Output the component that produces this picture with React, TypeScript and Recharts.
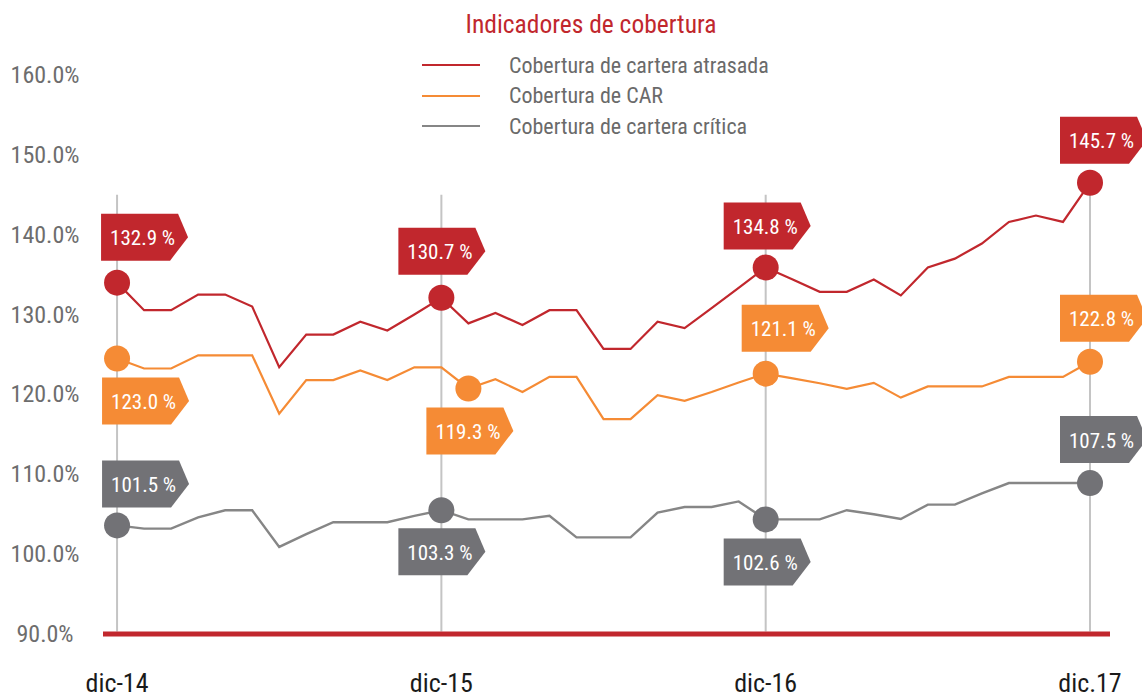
import React from "react";
import { CartesianGrid, Legend, Line, LineChart, ReferenceLine, XAxis, YAxis } from "recharts";

// Monthly points, dic-14 (0) to dic-17 (36)
const redValues = [
  134.0, 130.55, 130.55, 132.5, 132.5, 131.0, 123.4, 127.5, 127.5, 129.1, 128.0, 130.0, 132.1,
  128.9, 130.2, 128.7, 130.55, 130.55, 125.7, 125.7, 129.1, 128.3, 130.8, 133.35, 135.9,
  134.4, 132.85, 132.85, 134.4, 132.4, 135.9, 137.0, 138.9, 141.6, 142.4, 141.6, 146.5,
];
const orangeValues = [
  124.5, 123.25, 123.25, 124.9, 124.9, 124.9, 117.6, 121.8, 121.8, 123.0, 121.8, 123.4, 123.4,
  120.75, 121.9, 120.3, 122.2, 122.2, 116.9, 116.9, 119.9, 119.2, 120.3, 121.5, 122.6,
  122.0, 121.4, 120.7, 121.45, 119.6, 121.0, 121.0, 121.0, 122.2, 122.2, 122.2, 124.1,
];
const grayValues = [
  103.6, 103.2, 103.2, 104.6, 105.5, 105.5, 100.9, 102.5, 104.0, 104.0, 104.0, 104.8, 105.5,
  104.35, 104.35, 104.35, 104.8, 102.1, 102.1, 102.1, 105.2, 105.9, 105.9, 106.6, 104.35,
  104.35, 104.35, 105.5, 105.0, 104.4, 106.2, 106.2, 107.6, 108.9, 108.9, 108.9, 108.9,
];

const seriesNames = ["Cobertura de cartera atrasada", "Cobertura de CAR", "Cobertura de cartera crítica"];
const xTicks = [0, 12, 24, 36];
const xTickLabels = ["dic-14", "dic-15", "dic-16", "dic.17"];
const yTicks = [90, 100, 110, 120, 130, 140, 150, 160];

// highlighted points and their callout texts
const redMarks = [0, 12, 24, 36];
const redTags = ["132.9 %", "130.7 %", "134.8 %", "145.7 %"];
const orangeMarks = [0, 13, 24, 36];
const orangeTags = ["123.0 %", "119.3 %", "121.1 %", "122.8 %"];
const grayMarks = [0, 12, 24, 36];
const grayTags = ["101.5 %", "103.3 %", "102.6 %", "107.5 %"];

// callout box offsets from the dot (px)
const redPlace = [[-16, -69], [-43, -70], [-42, -65], [-30, -66]];
const orangePlace = [[-15, 19], [-42, 19], [-24, -69], [-30, -67]];
const grayPlace = [[-15, -65], [-43, 18], [-42, 19], [-30, -67]];

const RED = "#c1272d";
const ORANGE = "#f58b35";
const GRAY = "#727276";
const GRAY_LINE = "#868686";
const FONT = "'Liberation Sans Narrow', 'Roboto Condensed', 'DejaVu Sans Condensed', 'Liberation Sans', sans-serif";

const data = redValues.map((v, i) => ({
  m: i,
  red: v,
  orange: orangeValues[i],
  gray: grayValues[i],
}));

function Tag({ x, y, text, fill }: { x: number; y: number; text: string; fill: string }) {
  const h = 47;
  const pts = `${x},${y} ${x + 77},${y} ${x + 87},${y + h / 2} ${x + 69},${y + h} ${x},${y + h}`;
  return (
    <g>
      <polygon points={pts} fill={fill} />
      <text
        x={x + 9}
        y={y + h / 2 + 1}
        fill="#fff"
        fontSize={21}
        fontFamily={FONT}
        dominantBaseline="central"
      >
        {text}
      </text>
    </g>
  );
}

function makeDot(color: string, marks: number[], tags: string[], place: number[][]) {
  return (props: any) => {
    const { cx, cy, index } = props;
    const k = marks.indexOf(index);
    if (k < 0) return <g key={`d-${index}`} />;
    return (
      <g key={`d-${index}`}>
        <circle cx={cx} cy={cy} r={13} fill={color} />
        <Tag x={cx + place[k][0]} y={cy + place[k][1]} text={tags[k]} fill={color} />
      </g>
    );
  };
}

function renderLegend(props: any) {
  const payload = [...(props.payload ?? [])].sort(
    (a: any, b: any) => seriesNames.indexOf(a.value) - seriesNames.indexOf(b.value)
  );
  return (
    <div style={{ fontFamily: FONT }}>
      {payload.map((p: any) => (
        <div key={p.value} style={{ display: "flex", alignItems: "center", height: 30.5 }}>
          <span style={{ display: "inline-block", width: 58, height: 2, background: p.color }} />
          <span style={{ marginLeft: 29, fontSize: 22, color: "#6a6a6a", whiteSpace: "nowrap" }}>
            {p.value}
          </span>
        </div>
      ))}
    </div>
  );
}

const YTick = ({ y, payload }: any) => (
  <text x={45} y={y} textAnchor="middle" dominantBaseline="central" fontSize={24} fill="#6d6d6d" fontFamily={FONT}>
    {payload.value.toFixed(1)}%
  </text>
);

const XTick = ({ x, y, payload }: any) => (
  <text x={x} y={y + 47} textAnchor="middle" dominantBaseline="central" fontSize={26} fill="#1a1a1a" fontFamily={FONT}>
    {xTickLabels[xTicks.indexOf(payload.value)]}
  </text>
);

export default function App() {
  return (
    <div style={{ position: "absolute", left: 0, top: 0, width: 1142, height: 697, background: "#fff" }}>
      <div
        style={{
          position: "absolute",
          top: 6,
          left: 391,
          width: 400,
          textAlign: "center",
          fontFamily: FONT,
          fontSize: 25.5,
          lineHeight: "36px",
          color: RED,
        }}
      >
        Indicadores de cobertura
      </div>
      <LineChart width={1142} height={697} data={data} margin={{ top: 75, right: 32, bottom: 0, left: 0 }}>
        <CartesianGrid horizontal={false} vertical={false} />
        <XAxis
          dataKey="m"
          type="number"
          domain={[-0.52, 36.74]}
          ticks={xTicks}
          tick={<XTick />}
          tickLine={false}
          tickSize={0}
          height={63}
          axisLine={{ stroke: RED, strokeWidth: 5 }}
        />
        <YAxis
          domain={[90, 160]}
          ticks={yTicks}
          tick={<YTick />}
          tickLine={false}
          axisLine={false}
          width={103}
        />
        {xTicks.map((t) => (
          <ReferenceLine
            key={t}
            segment={[
              { x: t, y: 145 },
              { x: t, y: 90.3 },
            ]}
            stroke="#c4c4c4"
            strokeWidth={2}
          />
        ))}
        <Legend
          layout="horizontal"
          verticalAlign="middle"
          align="center"
          wrapperStyle={{ top: 50, left: 422, width: 420 }}
          content={renderLegend}
        />
        <Line
          dataKey="red"
          name={seriesNames[0]}
          stroke={RED}
          strokeWidth={2.2}
          type="linear"
          dot={makeDot(RED, redMarks, redTags, redPlace)}
          activeDot={false}
          isAnimationActive={false}
        />
        <Line
          dataKey="orange"
          name={seriesNames[1]}
          stroke={ORANGE}
          strokeWidth={2.2}
          type="linear"
          dot={makeDot(ORANGE, orangeMarks, orangeTags, orangePlace)}
          activeDot={false}
          isAnimationActive={false}
        />
        <Line
          dataKey="gray"
          name={seriesNames[2]}
          stroke={GRAY_LINE}
          strokeWidth={2.4}
          type="linear"
          dot={makeDot(GRAY, grayMarks, grayTags, grayPlace)}
          activeDot={false}
          isAnimationActive={false}
        />
      </LineChart>
    </div>
  );
}
